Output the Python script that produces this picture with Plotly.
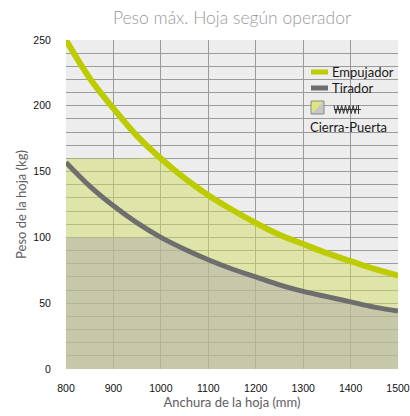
import numpy as np
import plotly.graph_objects as go

# Data
anchura = [800, 850, 900, 950, 1000, 1050, 1100, 1150, 1200, 1250, 1300, 1350, 1400, 1450, 1500]
empujador = [250, 221, 198, 177, 160, 145, 132, 121, 111, 102, 95, 88, 82, 76, 71]
tirador = [157, 139, 124, 111, 100, 91, 83, 76, 70, 64, 59, 55, 51, 47, 44]
limite_cierra_empujador = 160
limite_cierra_tirador = 100

x_ticks = [800, 900, 1000, 1100, 1200, 1300, 1400, 1500]
y_ticks = [0, 50, 100, 150, 200, 250]

fill_emp = np.minimum(np.array(empujador), limite_cierra_empujador)
fill_tir = np.minimum(np.array(tirador), limite_cierra_tirador)
zeros = np.zeros(len(anchura))

fig = go.Figure()

# Cierra-puerta regions
fig.add_trace(go.Scatter(x=anchura, y=zeros, mode="lines", line=dict(width=0),
                         showlegend=False, hoverinfo="skip"))
fig.add_trace(go.Scatter(x=anchura, y=fill_emp, mode="lines", line=dict(width=0, shape="spline"),
                         fill="tonexty", fillcolor="rgba(209,219,99,0.5)",
                         showlegend=False, hoverinfo="skip"))
fig.add_trace(go.Scatter(x=anchura, y=zeros, mode="lines", line=dict(width=0),
                         showlegend=False, hoverinfo="skip"))
fig.add_trace(go.Scatter(x=anchura, y=fill_tir, mode="lines", line=dict(width=0, shape="spline"),
                         fill="tonexty", fillcolor="rgba(175,172,172,0.5)",
                         showlegend=False, hoverinfo="skip"))

# Curves
fig.add_trace(go.Scatter(x=anchura, y=tirador, mode="lines", name="Tirador",
                         line=dict(color="#6e6e6e", width=5, shape="spline"), showlegend=False))
fig.add_trace(go.Scatter(x=anchura, y=empujador, mode="lines", name="Empujador",
                         line=dict(color="#bccc00", width=6, shape="spline"), showlegend=False))

axis_font = dict(family="Lato", size=13, color="#5e5e5e")
tick_font = dict(family="Liberation Sans", size=10.5, color="#111111")

fig.update_layout(
    width=410, height=416,
    margin=dict(l=66, r=12, t=40, b=47),
    paper_bgcolor="white",
    plot_bgcolor="#ededed",
    title=dict(text="Peso máx. Hoja según operador", x=0.5, xref="paper", y=0.957,
               yanchor="middle", font=dict(family="Lato", size=17.5, color="#999999", weight=300)),
    xaxis=dict(range=[800, 1500], tickvals=x_ticks, showgrid=True, gridcolor="#9a9a9a",
               gridwidth=1, zeroline=False, showline=False, tickfont=tick_font,
               ticks="outside", ticklen=9, tickcolor="rgba(0,0,0,0)", automargin=False,
               title=dict(text="Anchura de la hoja (mm)", font=axis_font, standoff=5)),
    yaxis=dict(range=[0, 250], tickvals=y_ticks, showgrid=True, gridcolor="#9a9a9a",
               gridwidth=1, zeroline=False, showline=False, tickfont=tick_font,
               ticks="outside", ticklen=12, tickcolor="rgba(0,0,0,0)", automargin=False,
               minor=dict(dtick=10, showgrid=True, gridcolor="#9a9a9a", gridwidth=1),
               title=dict(text="Peso de la hoja (kg)", font=axis_font, standoff=3)),
)

# Custom legend
def px_x(p):
    return (p - 66) / 332

def px_y(p):
    return (369 - p) / 329

legend_font = dict(family="Lato", size=13, color="#1a1a1a")
shapes = []
shapes.append(dict(type="line", xref="paper", yref="paper", x0=px_x(311), x1=px_x(328),
                   y0=px_y(72), y1=px_y(72), line=dict(color="#bccc00", width=5)))
shapes.append(dict(type="line", xref="paper", yref="paper", x0=px_x(311), x1=px_x(328),
                   y0=px_y(88), y1=px_y(88), line=dict(color="#6e6e6e", width=5)))
# square icon
x0, x1, y0, y1 = px_x(311), px_x(324), px_y(114), px_y(101)
shapes.append(dict(type="path", xref="paper", yref="paper",
                   path=f"M{x0},{y0} L{x0},{y1} L{x1},{y1} Z", fillcolor="#dde77a",
                   line=dict(width=0)))
shapes.append(dict(type="path", xref="paper", yref="paper",
                   path=f"M{x0},{y0} L{x1},{y1} L{x1},{y0} Z", fillcolor="#c6c6c6",
                   line=dict(width=0)))
shapes.append(dict(type="rect", xref="paper", yref="paper", x0=x0, x1=x1, y0=y0, y1=y1,
                   line=dict(color="#8a8a8a", width=1)))
# spring zigzag
zx = np.linspace(334, 357, 13)
pts = []
for i, xv in enumerate(zx):
    yv = 105.5 if i % 2 == 0 else 113.5
    pts.append(f"{px_x(xv)},{px_y(yv)}")
path = "M" + " L".join(pts)
shapes.append(dict(type="path", xref="paper", yref="paper", path=path,
                   line=dict(color="#333333", width=1)))
shapes.append(dict(type="line", xref="paper", yref="paper", x0=px_x(334), x1=px_x(361),
                   y0=px_y(109.5), y1=px_y(109.5), line=dict(color="#333333", width=1)))
shapes.append(dict(type="line", xref="paper", yref="paper", x0=px_x(358.5), x1=px_x(358.5),
                   y0=px_y(105), y1=px_y(114), line=dict(color="#333333", width=1)))
fig.update_layout(shapes=shapes)

fig.add_annotation(text="Empujador", xref="paper", yref="paper", x=px_x(330), y=px_y(72),
                   xanchor="left", yanchor="middle", showarrow=False, font=legend_font)
fig.add_annotation(text="Tirador", xref="paper", yref="paper", x=px_x(330), y=px_y(88),
                   xanchor="left", yanchor="middle", showarrow=False, font=legend_font)
fig.add_annotation(text="Cierra-Puerta", xref="paper", yref="paper", x=px_x(308), y=px_y(127),
                   xanchor="left", yanchor="middle", showarrow=False, font=legend_font)

fig.write_html("out.html", config={"displayModeBar": False},
               post_script="document.body.style.margin='0';")
